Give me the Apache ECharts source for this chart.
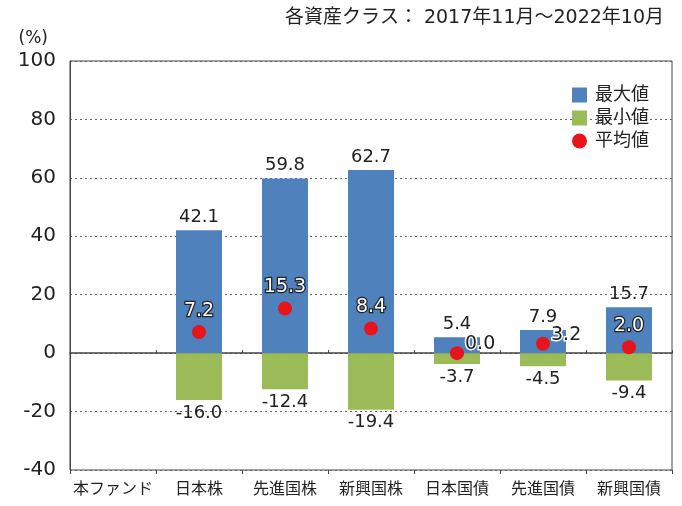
<!DOCTYPE html>
<html>
<head>
<meta charset="utf-8">
<script src="https://cdn.jsdelivr.net/npm/echarts@6/dist/echarts.min.js"></script>
<style>
  html, body { margin: 0; padding: 0; background: #fff; }
  #main { width: 682px; height: 506px; }
</style>
</head>
<body>
<div id="main"></div>
<script>
// data
var categories = ["本ファンド", "日本株", "先進国株", "新興国株", "日本国債", "先進国債", "新興国債"];
var maxData = ["-", 42.1, 59.8, 62.7, 5.4, 7.9, 15.7];
var minData = ["-", -16.0, -12.4, -19.4, -3.7, -4.5, -9.4];
var avgData = ["-", 7.2, 15.3, 8.4, 0.0, 3.2, 2.0];
var yTicks = [-40, -20, 0, 20, 40, 60, 80, 100];

// 数字は DejaVu、日本語は Noto にフォールバック
var fontJP = '"DejaVu Sans", "Noto Sans CJK JP"';
var blue = "#4F81BD";
var green = "#9BBB59";
var red = "#E8141B";

// 平均値のラベル：0.0 と 3.2 はバーの右に黒字
var avgSeriesData = avgData.map(function (v, i) {
  if (v === "-") return "-";
  if (i === 4 || i === 5) {
    return {
      value: v,
      label: {
        position: "right",
        offset: [-4, -9],
        color: "#222",
        textBorderColor: "#fff",
        textBorderWidth: 3
      }
    };
  }
  return { value: v };
});

var option = {
  animation: false,
  textStyle: { fontFamily: fontJP },
  title: {
    text: "各資産クラス： 2017年11月～2022年10月",
    right: 13,
    top: 4,
    textStyle: { fontFamily: fontJP, fontSize: 19, fontWeight: "normal", color: "#222" }
  },
  legend: {
    orient: "vertical",
    right: 28,
    top: 81,
    itemWidth: 15,
    itemHeight: 15,
    itemGap: 5,
    textStyle: { fontFamily: fontJP, fontSize: 18, color: "#222", padding: [0, 0, 0, 3] },
    data: [
      { name: "最大値", icon: "rect" },
      { name: "最小値", icon: "rect" },
      { name: "平均値", icon: "circle" }
    ]
  },
  grid: {
    left: 70,
    right: 10,
    top: 61,
    bottom: 36,
    containLabel: false,
    outerBoundsMode: "none",
    show: true,
    borderColor: "#444",
    borderWidth: 1
  },
  xAxis: [
    {
      // ラベル用（下端）
      type: "category",
      position: "bottom",
      data: categories,
      axisLine: { onZero: false, show: false },
      axisTick: { show: false },
      axisLabel: { interval: 0, margin: 12, fontSize: 16, color: "#222", fontFamily: fontJP },
      splitLine: { show: false }
    },
    {
      // ゼロ線と上向き目盛
      type: "category",
      position: "top",
      data: categories,
      axisLine: { onZero: true, show: true, lineStyle: { color: "#444", width: 1.5 } },
      axisTick: { show: true, length: 3, lineStyle: { color: "#444" } },
      axisLabel: { show: false },
      splitLine: { show: false }
    },
    {
      // 下向き目盛
      type: "category",
      position: "bottom",
      data: categories,
      axisLine: { onZero: true, show: false },
      axisTick: { show: true, length: 4, lineStyle: { color: "#444" } },
      axisLabel: { show: false },
      splitLine: { show: false }
    }
  ],
  yAxis: {
    type: "value",
    min: yTicks[0],
    max: yTicks[yTicks.length - 1],
    interval: 20,
    name: "(%)",
    nameLocation: "end",
    nameGap: 14,
    nameTextStyle: { fontSize: 17, color: "#222", align: "right", padding: [0, 22, 0, 0] },
    axisLine: { show: true, onZero: false, lineStyle: { color: "#444" } },
    axisTick: { show: false },
    axisLabel: { fontSize: 20, color: "#222", margin: 14 },
    splitLine: { show: true, lineStyle: { color: "#666", type: [2, 3], width: 1 } }
  },
  series: [
    {
      name: "最大値",
      type: "bar",
      xAxisIndex: 0,
      barWidth: 46,
      barGap: "-100%",
      itemStyle: { color: blue },
      label: {
        show: true,
        position: "top",
        distance: 4,
        fontSize: 18,
        color: "#222",
        formatter: function (p) { return p.value.toFixed(1); }
      },
      data: maxData
    },
    {
      name: "最小値",
      type: "bar",
      xAxisIndex: 0,
      barWidth: 46,
      barGap: "-100%",
      itemStyle: { color: green },
      label: {
        show: true,
        position: "bottom",
        distance: 4,
        fontSize: 18,
        color: "#222",
        formatter: function (p) { return p.value.toFixed(1); }
      },
      data: minData
    },
    {
      name: "平均値",
      type: "scatter",
      xAxisIndex: 0,
      symbol: "circle",
      symbolSize: 14,
      itemStyle: { color: red, opacity: 1 },
      label: {
        show: true,
        position: "top",
        distance: 5,
        fontSize: 19,
        color: "#fff",
        textBorderColor: "#222",
        textBorderWidth: 2.5,
        formatter: function (p) { return p.value.toFixed(1); }
      },
      z: 5,
      data: avgSeriesData
    }
  ]
};

var myChart = echarts.init(document.getElementById("main"));
myChart.setOption(option);
</script>
</body>
</html>
